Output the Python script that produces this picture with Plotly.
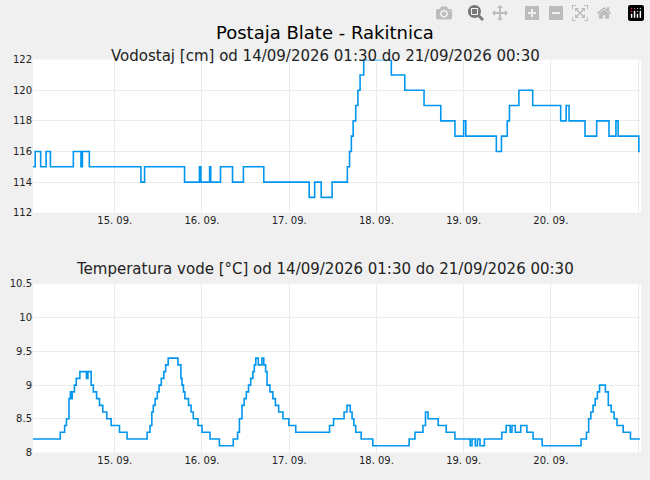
import pandas as pd
import plotly.graph_objects as go

# Water level change points: hours since 14.09.2026 00:00, level [cm]
lvl_hours = [1.5, 2.1, 3.6, 5.1, 6.3, 12.6, 14.7, 15.1, 17.0, 31.2, 32.2, 43.2, 47.3, 47.7, 50.1, 50.4, 53.1, 56.4,
             59.4, 65.0, 77.5, 79.0, 80.8, 83.8, 88.0, 88.6, 89.1, 89.6, 90.3, 90.9, 91.5, 92.5, 100.1, 103.8,
             109.1, 113.7, 117.6, 120.0, 120.6, 129.0, 130.4, 132.0, 132.6, 135.2, 139.0, 146.7, 148.2, 149.0,
             153.4, 156.6, 160.0, 161.9, 162.5, 168.2, 168.5]
lvl_values = [115, 116, 115, 116, 115, 116, 115, 116, 115, 114, 115, 114, 115, 114, 115, 114, 115, 114,
              115, 114, 113, 114, 113, 114, 115, 116, 117, 118, 119, 120, 121, 122, 121, 120,
              119, 118, 117, 118, 117, 116, 117, 118, 119, 120, 119, 118, 119, 118,
              117, 118, 117, 118, 117, 116, 116]

# Water temperature change points: hours since 14.09.2026 00:00, temperature [°C]
tmp_hours = [1.5, 9.0, 10.2, 10.7, 11.4, 11.8, 12.0, 12.3, 12.9, 13.4, 14.4, 16.2, 16.6, 17.5, 18.1, 19.0, 19.8,
             20.7, 21.8, 23.0, 25.3, 27.4, 32.9, 33.7, 34.2, 34.6, 35.1, 35.7, 36.2, 36.8, 37.5, 38.0, 38.7,
             41.4, 42.2, 42.5, 42.9, 43.3, 44.3, 45.0, 45.6, 46.9, 48.0, 50.2, 52.8, 56.6, 57.8, 58.3, 59.0,
             59.6, 60.2, 60.8, 61.4, 62.0, 62.4, 62.8, 63.5, 64.5, 65.0, 65.5, 65.9, 66.7, 67.5, 68.2, 69.1,
             70.3, 71.9, 73.8, 83.1, 84.2, 87.1, 87.9, 88.8, 89.3, 89.8, 90.3, 91.8, 95.0, 105.0, 106.6,
             108.8, 109.5, 110.2, 113.0, 115.2, 117.6, 121.8, 122.3, 123.2, 123.8, 124.5, 125.7, 130.5,
             131.7, 132.8, 133.3, 134.2, 135.7, 137.4, 139.1, 141.6, 152.3, 153.8, 154.4, 155.0, 155.6,
             156.2, 156.8, 157.4, 159.0, 159.8, 160.6, 161.4, 162.2, 163.9, 165.9, 168.5]
tmp_values = [8.2, 8.3, 8.4, 8.5, 8.8, 8.9, 8.8, 8.9, 9.0, 9.1, 9.2, 9.1, 9.2, 9.0, 8.9, 8.8, 8.7,
              8.6, 8.5, 8.4, 8.3, 8.2, 8.3, 8.4, 8.6, 8.7, 8.8, 8.9, 9.0, 9.1, 9.2, 9.3, 9.4,
              9.3, 9.1, 9.0, 8.9, 8.8, 8.7, 8.6, 8.5, 8.4, 8.3, 8.2, 8.1, 8.2, 8.3, 8.5, 8.7,
              8.8, 8.9, 9.0, 9.1, 9.2, 9.3, 9.4, 9.3, 9.4, 9.3, 9.2, 9.0, 8.9, 8.8, 8.7, 8.6,
              8.5, 8.4, 8.3, 8.4, 8.5, 8.6, 8.7, 8.6, 8.5, 8.4, 8.3, 8.2, 8.1, 8.2, 8.3,
              8.4, 8.6, 8.5, 8.4, 8.3, 8.2, 8.1, 8.2, 8.1, 8.2, 8.1, 8.2, 8.3,
              8.4, 8.3, 8.4, 8.3, 8.4, 8.3, 8.2, 8.1, 8.2, 8.3, 8.5, 8.6, 8.7,
              8.8, 8.9, 9.0, 8.9, 8.7, 8.6, 8.5, 8.4, 8.3, 8.2, 8.2]

base = pd.Timestamp("2026-09-14 00:00")
lvl_t = [base + pd.Timedelta(hours=h) for h in lvl_hours]
tmp_t = [base + pd.Timedelta(hours=h) for h in tmp_hours]

C = "#0096f0"
fig = go.Figure()
fig.add_trace(go.Scatter(x=lvl_t, y=lvl_values, mode="lines", line=dict(color=C, width=1.6, shape="hv"),
                         xaxis="x", yaxis="y", showlegend=False))
fig.add_trace(go.Scatter(x=tmp_t, y=tmp_values, mode="lines", line=dict(color=C, width=1.6, shape="hv"),
                         xaxis="x2", yaxis="y2", showlegend=False))

xr = [base + pd.Timedelta(hours=1.5), base + pd.Timedelta(hours=168.8)]
xcommon = dict(range=xr, tickformat="%d. %m.", dtick=86400000, tick0="2026-09-15",
               showgrid=True, gridcolor="#ebebeb", ticks="", showline=False, zeroline=False,
               tickfont=dict(size=10, color="#222"))
ycommon = dict(showgrid=True, gridcolor="#ebebeb", ticks="", showline=False, zeroline=False,
               tickfont=dict(size=10, color="#222"))
fig.update_layout(
    width=650, height=480, margin=dict(l=0, r=0, t=0, b=0),
    paper_bgcolor="#f0f0f0", plot_bgcolor="white",
    font=dict(family="DejaVu Sans", color="#111"),
    xaxis=dict(domain=[33/650, 641/650], anchor="y", **xcommon),
    yaxis=dict(domain=[1-212/480, 1-55/480], range=[112, 122], dtick=2, anchor="x", **ycommon),
    xaxis2=dict(domain=[33/650, 641/650], anchor="y2", **xcommon),
    yaxis2=dict(domain=[1-458/480, 1-285/480], range=[8, 10.5], dtick=0.5, anchor="x2", **ycommon),
    annotations=[
        dict(text="Postaja Blate - Rakitnica", x=0.5, y=1-14/480, xref="paper", yref="paper",
             showarrow=False, font=dict(size=18, color="#000")),
        dict(text="Vodostaj [cm] od 14/09/2026 01:30 do 21/09/2026 00:30", x=0.5, y=1-40/480,
             xref="paper", yref="paper", showarrow=False, font=dict(size=15, color="#222")),
        dict(text="Temperatura vode [°C] od 14/09/2026 01:30 do 21/09/2026 00:30", x=0.5, y=1-270/480,
             xref="paper", yref="paper", showarrow=False, font=dict(size=15, color="#222")),
    ],
)
fig.write_html("out.html",
               post_script="document.body.style.margin='0';document.body.style.overflow='hidden';")
